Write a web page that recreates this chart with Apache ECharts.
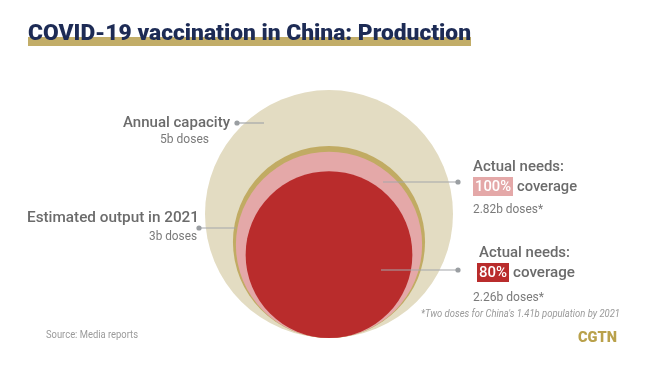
<!DOCTYPE html>
<html><head><meta charset="utf-8">
<script src="https://cdn.jsdelivr.net/npm/echarts@6/dist/echarts.min.js"></script>
<style>html,body{margin:0;padding:0;background:#fff}#c{width:650px;height:366px}</style>
</head><body><div id="c"></div>
<script>
// Data (billion doses)
const categories = ['Annual capacity', 'Estimated output in 2021', 'Actual needs: 100% coverage', 'Actual needs: 80% coverage'];
const values = [5, 3, 2.82, 2.26];
const valueLabels = ['5b doses', '3b doses', '2.82b doses*', '2.26b doses*'];
const coverage = ['100%', '80%'];
const colors = ['#e3dcc2', '#c1ab63', '#e4a8a8', '#b92c2c'];

const maxRadius = 124;
const chart = echarts.init(document.getElementById('c'), null, {renderer: 'canvas'});

const mctx = document.createElement('canvas').getContext('2d');
function fitScale(text, font, w) {
  mctx.font = font;
  return w / mctx.measureText(text).width;
}
const FAM = 'Roboto';
function txt(text, x, y, w, size, weight, color, align, style) {
  const font = (style || 'normal') + ' ' + weight + ' ' + size + 'px ' + FAM;
  return {
    type: 'text', x: x, y: y, z: 100, scaleX: fitScale(text, font, w), silent: true,
    style: {text: text, x: 0, y: 0, fill: color, font: font, align: align || 'left', verticalAlign: 'middle'}
  };
}
function leader(x1, x2, y, dotAt) {
  return [
    {type: 'line', z: 100, shape: {x1: x1, y1: y, x2: x2, y2: y}, style: {stroke: '#a3a6a9', lineWidth: 1.2}, silent: true},
    {type: 'circle', z: 100, shape: {cx: dotAt, cy: y, r: 2.6}, style: {fill: '#9a9ea2'}, silent: true}
  ];
}
const LBL = '#6b6b6b', SUB = '#7a7a7a';
const graphics = [
  {type: 'rect', z: 100, shape: {x: 28, y: 37, width: 443, height: 9}, style: {fill: '#c2ad68'}, silent: true},
  txt('COVID-19 vaccination in China: Production', 28, 34, 443, 22, 900, '#1d2b55'),
  txt(categories[0], 230, 123, 107, 15, 500, LBL, 'right'),
  txt(valueLabels[0], 209, 140, 49, 12.5, 400, SUB, 'right'),
  txt(categories[1], 199, 218, 172, 15, 500, LBL, 'right'),
  txt(valueLabels[1], 197, 237, 48, 12.5, 400, SUB, 'right'),
  txt('Actual needs:', 473, 167, 91, 15, 500, LBL),
  {type: 'rect', z: 100, shape: {x: 473, y: 177, width: 40, height: 19}, style: {fill: '#e4a8a8'}, silent: true},
  txt(coverage[0], 475, 187, 36, 15, 500, '#ffffff'),
  txt('coverage', 517, 187, 60, 15, 500, LBL),
  txt(valueLabels[2], 473, 210, 70, 12.5, 400, SUB),
  txt('Actual needs:', 479, 253, 91, 15, 500, LBL),
  {type: 'rect', z: 100, shape: {x: 477, y: 263, width: 32, height: 19}, style: {fill: '#b92c2c'}, silent: true},
  txt(coverage[1], 479, 273, 28, 15, 500, '#ffffff'),
  txt('coverage', 513, 273, 62, 15, 500, LBL),
  txt(valueLabels[3], 473, 298, 71, 12.5, 400, SUB),
  txt("*Two doses for China's 1.41b population by 2021", 421, 314, 199, 10, 400, '#9a9a9a', 'left', 'italic'),
  txt('Source: Media reports', 46, 335, 92, 10.5, 400, '#9a9a9a'),
  txt('CGTN', 578, 338, 39, 14, 900, '#b9a14b')
].concat(leader(237, 264, 123, 237))
 .concat(leader(199, 236, 228, 199))
 .concat(leader(383, 458, 182, 458))
 .concat(leader(381, 458, 270, 458));

chart.setOption({
  animation: false,
  grid: {left: 8, right: 0, top: 60, bottom: 28},
  xAxis: {type: 'value', min: -1, max: 1, show: false},
  yAxis: {type: 'value', min: 0, max: 1, show: false},
  series: [{
    type: 'scatter',
    symbol: 'circle',
    symbolOffset: [0, '-50%'],
    symbolSize: function (v) { return 2 * maxRadius * Math.sqrt(v[2] / values[0]); },
    silent: true,
    z: 2,
    data: values.map(function (v, i) {
      return {name: categories[i], value: [0, 0, v], itemStyle: {color: colors[i], opacity: 1}};
    })
  }],
  graphic: {elements: graphics}
});
</script></body></html>
